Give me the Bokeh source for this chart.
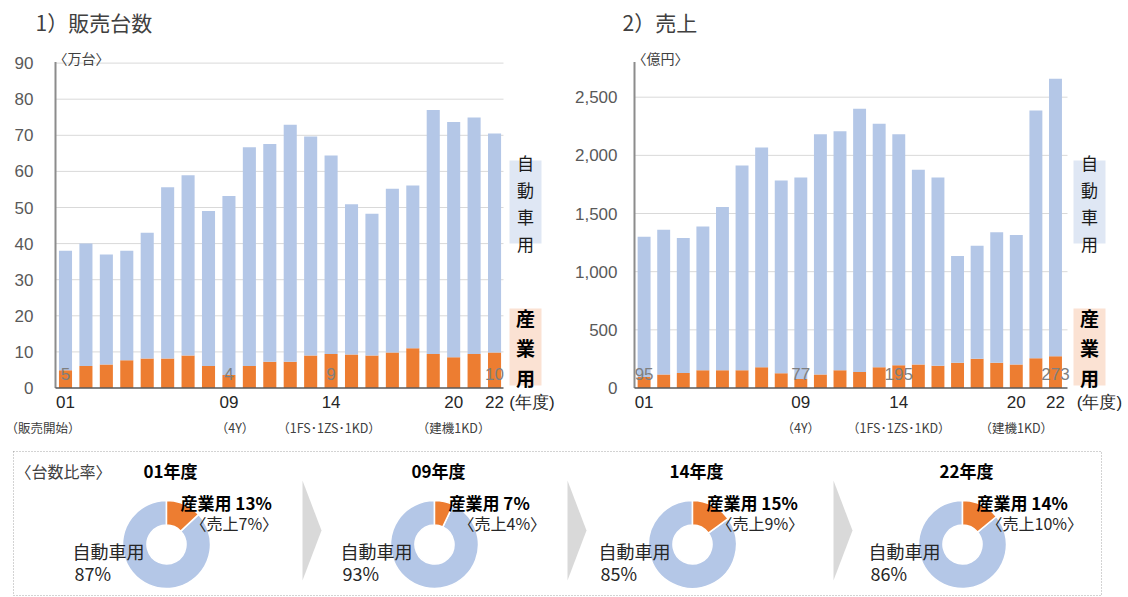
import math
from bokeh.plotting import figure
from bokeh.models import ColumnDataSource, Range1d, FixedTicker, LinearAxis, NumeralTickFormatter
from bokeh.layouts import column, row
from bokeh.embed import file_html
from bokeh.resources import INLINE
from bokeh.core.properties import value

# ---------------- data ----------------
years = ["01", "02", "03", "04", "05", "06", "07", "08", "09", "10", "11",
         "12", "13", "14", "15", "16", "17", "18", "19", "20", "21", "22"]
# 販売台数（万台）
units_ind = [4.9, 6.1, 6.5, 7.7, 8.2, 8.2, 9.0, 6.1, 3.6, 6.1, 7.3,
             7.3, 9.0, 9.4, 9.3, 9.0, 9.8, 11.0, 9.4, 8.5, 9.4, 9.8]
units_auto = [33.1, 33.9, 30.5, 30.3, 34.8, 47.4, 49.9, 42.9, 49.6, 60.6, 60.3,
              65.6, 60.7, 55.0, 41.6, 39.3, 45.4, 45.1, 67.6, 65.2, 65.5, 60.7]
# 売上（億円）
sales_ind = [95, 115, 129, 152, 152, 152, 178, 126, 77, 115, 152,
             137, 178, 195, 203, 192, 218, 252, 218, 203, 255, 273]
sales_auto = [1205, 1245, 1160, 1237, 1403, 1761, 1890, 1658, 1733, 2067, 2056,
              2263, 2093, 1987, 1673, 1618, 916, 971, 1120, 1112, 2131, 2385]

units_ticks = [0, 10, 20, 30, 40, 50, 60, 70, 80, 90]
sales_ticks = [0, 500, 1000, 1500, 2000, 2500]
tick_years = ["01", "09", "14", "20", "22"]
year_unit = "(年度)"
label_years = ["01", "09", "14", "22"]
units_note_years = ["01", "09", "14", "20"]
units_notes = ["（販売開始）", "（4Y）", "（1FS･1ZS･1KD）", "（建機1KD）"]
sales_note_years = ["09", "14", "20"]
sales_notes = ["（4Y）", "（1FS･1ZS･1KD）", "（建機1KD）"]

donut_titles = ["01年度", "09年度", "14年度", "22年度"]
donut_ind = [13, 7, 15, 14]
donut_auto = [87, 93, 85, 86]
donut_sales_ind = [7, 4, 9, 10]

BLUE = "#b4c7e7"
ORANGE = "#ed7d31"
JP = "Noto Sans CJK JP"
NUM = "Liberation Sans"

xpos = {y: i + 1 for i, y in enumerate(years)}


def make_bar_chart(width, left_border, standoff, px_first, px_step, y_zero, y_scale,
                   ind, auto, ticks, bar_w, axis_px, end_px, title, title_px,
                   unit, unit_px, note_years, notes, note_shift, nendo_px, fmt):
    def fx(px):
        return 1 + (px - px_first) / px_step

    def fy(py):
        return (y_zero - py) / y_scale

    p = figure(width=width, height=440, title=None,
               x_range=Range1d(fx(left_border), fx(width)),
               y_range=Range1d(fy(389), fy(0)),
               output_backend="svg", toolbar_location=None,
               min_border_left=left_border, min_border_right=0,
               min_border_top=0, min_border_bottom=51)
    p.xgrid.visible = False
    p.ygrid.visible = False
    p.outline_line_color = None
    p.background_fill_color = "white"
    p.border_fill_color = "white"

    # y axis labels
    yax = p.yaxis[0]
    yax.ticker = FixedTicker(ticks=ticks)
    if fmt:
        yax.formatter = NumeralTickFormatter(format="0,0")
    yax.axis_line_color = None
    yax.major_tick_line_color = None
    yax.minor_tick_line_color = None
    yax.major_tick_out = 0
    yax.major_tick_in = 0
    yax.major_label_standoff = standoff
    yax.major_label_text_font = NUM
    yax.major_label_text_font_size = "17px"
    yax.major_label_text_color = "#595959"

    # x axis labels (years + unit)
    tpos = [xpos[y] for y in tick_years] + [fx(nendo_px)]
    tlab = list(tick_years) + [year_unit]
    xax = p.xaxis[0]
    xax.ticker = FixedTicker(ticks=tpos)
    xax.major_label_overrides = dict(zip(tpos, tlab))
    xax.axis_line_color = None
    xax.major_tick_line_color = None
    xax.minor_tick_line_color = None
    xax.major_tick_out = 0
    xax.major_tick_in = 0
    xax.major_label_standoff = 3
    xax.major_label_text_font = NUM
    xax.major_label_text_font_size = "17px"
    xax.major_label_text_color = "#262626"

    # second row of x labels (notes)
    npos = [xpos[y] + s for y, s in zip(note_years, note_shift)]
    ax2 = LinearAxis(ticker=FixedTicker(ticks=npos),
                     major_label_overrides=dict(zip(npos, notes)),
                     axis_line_color=None, major_tick_line_color=None,
                     minor_tick_line_color=None, major_tick_out=0, major_tick_in=0,
                     major_label_standoff=3, major_label_text_font=JP,
                     major_label_text_font_size="12.5px",
                     major_label_text_color="#404040")
    p.add_layout(ax2, "below")

    # grid lines
    gt = [t for t in ticks if t > 0]
    p.segment(x0=[fx(axis_px)] * len(gt), y0=gt, x1=[fx(end_px)] * len(gt), y1=gt,
              line_color="#d9d9d9", line_width=1)

    src = ColumnDataSource(dict(x=[xpos[y] for y in years], ind=ind, auto=auto))
    p.vbar_stack(["ind", "auto"], x="x", width=bar_w, color=[ORANGE, BLUE],
                 source=src, line_color=None)

    # axis lines
    p.segment(x0=[fx(axis_px)], y0=[0], x1=[fx(axis_px)], y1=[fy(61.5)],
              line_color="#8c8c8c", line_width=2)
    p.segment(x0=[fx(axis_px)], y0=[0], x1=[fx(end_px)], y1=[0],
              line_color="#595959", line_width=1.5)

    # value labels
    lx = [xpos[y] for y in label_years]
    lt = [str(round(ind[xpos[y] - 1])) for y in label_years]
    p.text(x=lx, y=[fy(373)] * len(lx), text=lt, text_align="center",
           text_baseline="middle", text_font=value(NUM), text_font_size="17px",
           text_color="#7f7f7f")

    # side boxes
    bl = end_px + 6
    br = bl + 32
    p.quad(left=[fx(bl)], right=[fx(br)], top=[fy(160)], bottom=[fy(243)],
           fill_color="#dfe7f4", line_color=None)
    p.quad(left=[fx(bl)], right=[fx(br)], top=[fy(308)], bottom=[fy(385)],
           fill_color="#fbe2d3", line_color=None)
    p.text(x=[fx((bl + br) / 2)], y=[fy(202)], text=["自\n動\n車\n用"],
           text_align="center", text_baseline="middle", text_font=value(JP),
           text_font_size="17px", text_line_height=1.08, text_color="#1a1a1a")
    p.text(x=[fx((bl + br) / 2)], y=[fy(347)], text=["産\n業\n用"],
           text_align="center", text_baseline="middle", text_font=value(JP),
           text_font_size="19px", text_font_style="bold", text_line_height=1.1,
           text_color="#000000")

    # titles
    p.text(x=[fx(title_px)], y=[fy(21)], text=[title], text_align="left",
           text_baseline="middle", text_font=value(JP), text_font_size="21px",
           text_color="#404040")
    p.text(x=[fx(unit_px)], y=[fy(57)], text=[unit], text_align="left",
           text_baseline="middle", text_font=value(JP), text_font_size="14px",
           text_color="#404040")
    return p


p1 = make_bar_chart(560, 34, 1, 65.0, 20.43, 387.5, 3.61, units_ind, units_auto,
                    units_ticks, 0.64, 55, 503, "1）販売台数", 35, "〈万台〉", 53,
                    units_note_years, units_notes, [-1.1, 0.3, -0.1, 0.0], 531.5, False)
p2 = make_bar_chart(568, 60, 3, 83.6, 19.59, 387.5, 0.11632, sales_ind, sales_auto,
                    sales_ticks, 0.66, 74, 507, "2）売上", 62, "〈億円〉", 72,
                    sales_note_years, sales_notes, [0.0, 0.0, 0.0], 539, True)

# ---------------- donut row ----------------
p3 = figure(width=1128, height=157, title=None, x_range=Range1d(0, 1128),
            y_range=Range1d(0, 157), output_backend="svg", toolbar_location=None,
            x_axis_location=None, y_axis_location=None, min_border=0)
p3.xgrid.visible = False
p3.ygrid.visible = False
p3.outline_line_color = None
p3.background_fill_color = "white"


def gy(py):
    return 597 - py


p3.quad(left=[13], right=[1101], top=[gy(451)], bottom=[gy(595)], fill_color=None,
        line_color="#a6a6a6", line_dash="1 2", line_width=1)

centers = [166, 434, 692, 962]
arrow_lefts = [302, 567, 833]
p3.patches(xs=[[a, a + 19, a] for a in arrow_lefts],
           ys=[[gy(480), gy(530), gy(580)] for _ in arrow_lefts],
           fill_color="#d9d9d9", line_color=None)

cy = gy(544)
ind_ang = [2 * math.pi * v / 100 for v in donut_ind]
p3.annular_wedge(x=centers, y=[cy] * 4, inner_radius=19.5, outer_radius=44,
                 start_angle=[math.pi / 2] * 4, end_angle=[math.pi / 2 - a for a in ind_ang],
                 fill_color=BLUE, line_color="white", line_width=1.5)
p3.annular_wedge(x=centers, y=[cy] * 4, inner_radius=19.5, outer_radius=44,
                 start_angle=[math.pi / 2 - a for a in ind_ang], end_angle=[math.pi / 2] * 4,
                 fill_color=ORANGE, line_color="white", line_width=1.5)

p3.text(x=[15], y=[gy(470)], text=["〈台数比率〉"], text_align="left",
        text_baseline="middle", text_font=value(JP), text_font_size="16px",
        text_color="#404040")
p3.text(x=[c + 4 for c in centers], y=[gy(470)] * 4, text=donut_titles,
        text_align="center", text_baseline="middle", text_font=value(JP),
        text_font_size="17px", text_font_style="bold", text_color="#000000")
p3.text(x=[c + 14 for c in centers], y=[gy(502)] * 4,
        text=[f"産業用 {v}%" for v in donut_ind], text_align="left",
        text_baseline="middle", text_font=value(JP), text_font_size="17px",
        text_font_style="bold", text_color="#000000")
p3.text(x=[c + 24 for c in centers], y=[gy(522)] * 4,
        text=[f"〈売上{v}%〉" for v in donut_sales_ind], text_align="left",
        text_baseline="middle", text_font=value(JP), text_font_size="16px",
        text_color="#262626")
p3.text(x=[c - 94 for c in centers], y=[gy(550)] * 4, text=["自動車用"] * 4,
        text_align="left", text_baseline="middle", text_font=value(JP),
        text_font_size="18px", text_color="#262626")
p3.text(x=[c - 92 for c in centers], y=[gy(572)] * 4,
        text=[f"{v}%" for v in donut_auto], text_align="left",
        text_baseline="middle", text_font=value(JP), text_font_size="18px",
        text_color="#262626")

layout = column(row(p1, p2), p3)
open("out.html", "w").write(file_html(layout, INLINE))
